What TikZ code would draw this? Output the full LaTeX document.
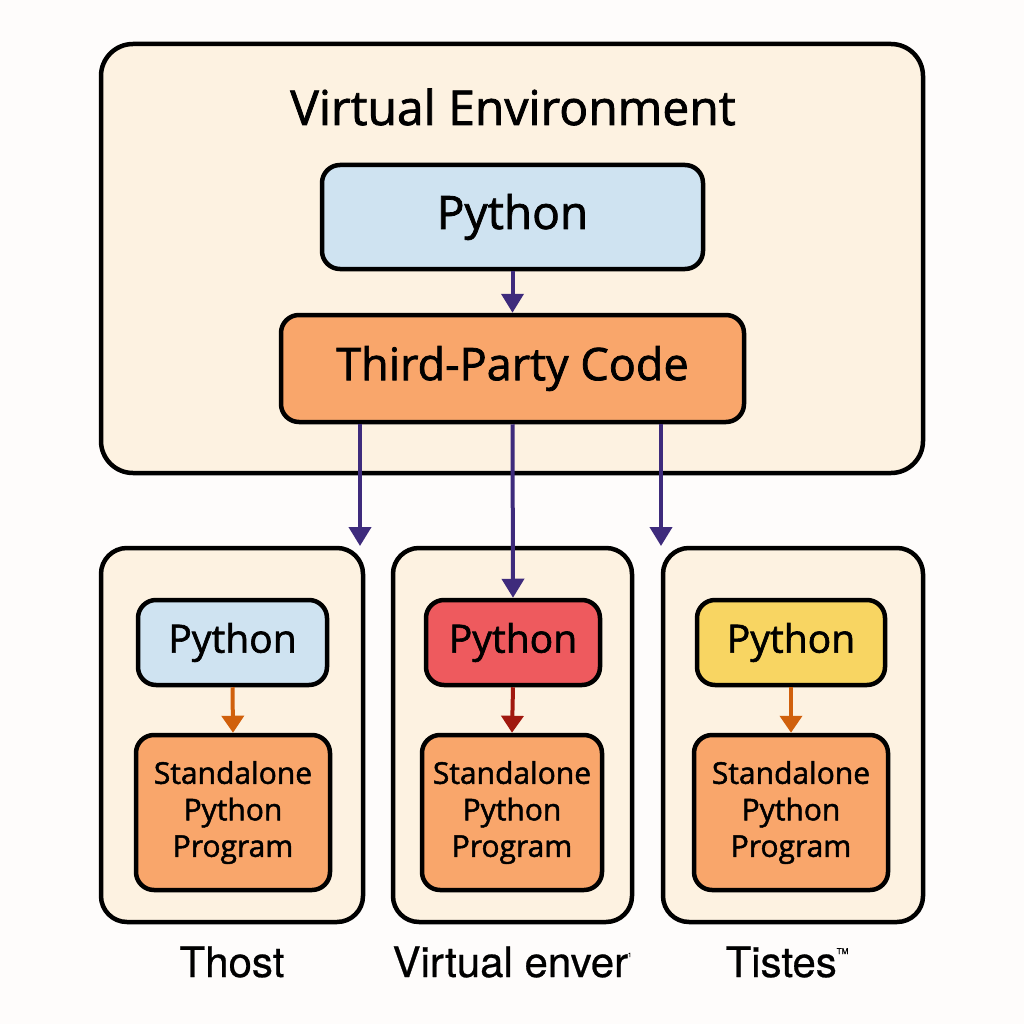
\documentclass[tikz,border=0pt]{standalone}
\usepackage{fontspec}
\setmainfont{Open Sans}[UprightFeatures={FakeBold=1.6}]
\newfontfamily\labfont{TeX Gyre Heros}[UprightFeatures={FakeBold=0.6}]
\usetikzlibrary{arrows.meta}
\definecolor{bgc}{HTML}{FEFCFB}
\definecolor{cream}{HTML}{FDF2E1}
\definecolor{lblue}{HTML}{CFE3F1}
\definecolor{orng}{HTML}{F9A66B}
\definecolor{rd}{HTML}{EE5A5E}
\definecolor{ylw}{HTML}{F8D562}
\definecolor{purp}{HTML}{3E2B7C}
\definecolor{oarrow}{HTML}{D0600C}
\definecolor{rarrow}{HTML}{A0180E}
\tikzset{
  frame/.style={draw=black, line width=4.5pt, fill=cream, rounded corners=32pt, inner sep=0pt},
  box/.style={draw=black, line width=4.5pt, rounded corners=18pt, inner sep=0pt, align=center},
  parr/.style={draw=purp, line width=4pt, -{Triangle[width=22pt,length=19pt]}},
  sarr/.style={line width=4pt, -{Triangle[width=22pt,length=17pt]}},
  lab/.style={font=\labfont\fontsize{42}{46}\selectfont},
}
\begin{document}
\begin{tikzpicture}[x=1pt,y=-1pt]
\useasboundingbox[fill=bgc] (0,0) rectangle (1024,1024);
% outer frame
\node[frame, minimum width=822pt, minimum height=429pt] (outer) at (512,258.5) {};
\node[font=\fontsize{48}{56}\selectfont] (title) at (513,107) {Virtual Environment};
\node[box, fill=lblue, minimum width=381pt, minimum height=104pt, font=\fontsize{46}{52}\selectfont] (py) at (512.5,217) {Python};
\node[box, fill=orng, minimum width=463pt, minimum height=107pt, font=\fontsize{45}{52}\selectfont] (tp) at (512.5,368.5) {Third-Party Code};
% bottom frames
\node[frame, rounded corners=26pt, minimum width=262pt, minimum height=374pt] (fa) at (232,735) {};
\node[frame, rounded corners=26pt, minimum width=239pt, minimum height=374pt] (fb) at (512.5,735) {};
\node[frame, rounded corners=26pt, minimum width=260pt, minimum height=374pt] (fc) at (793,735) {};
% small python boxes
\node[box, fill=lblue, minimum width=189pt, minimum height=85pt, font=\fontsize{39}{44}\selectfont] (pa) at (232.5,642.5) {Python};
\node[box, fill=rd, minimum width=174pt, minimum height=85pt, font=\fontsize{39}{44}\selectfont] (pb) at (513,642.5) {Python};
\node[box, fill=ylw, minimum width=188pt, minimum height=85pt, font=\fontsize{39}{44}\selectfont] (pc) at (791,642.5) {Python};
% standalone boxes
\node[box, fill=orng, minimum width=194pt, minimum height=155pt, font=\fontsize{30}{36.5}\selectfont] (sa) at (233,812.5) {Standalone\\Python\\Program};
\node[box, fill=orng, minimum width=180pt, minimum height=155pt, font=\fontsize{30}{36.5}\selectfont] (sb) at (512,812.5) {Standalone\\Python\\Program};
\node[box, fill=orng, minimum width=194pt, minimum height=155pt, font=\fontsize{30}{36.5}\selectfont] (sc) at (791,812.5) {Standalone\\Python\\Program};
% labels
\node[lab] (la) at (232,962) {Thost};
\node[lab] (lb) at (512,962) {Virtual enver\raisebox{20pt}{\fontsize{6}{6}\selectfont 1}};
\node[lab] (lc) at (787,962) {Tistes\raisebox{23pt}{\fontsize{8}{8}\selectfont TM}};
% arrows
\coordinate (ea) at (360,546);
\coordinate (ec) at (661,546);
\draw[parr] (py.south) -- (tp.north);
\draw[parr] (tp.south -| ea) -- (ea);
\draw[parr] (tp.south) -- (pb.north);
\draw[parr] (tp.south -| ec) -- (ec);
\draw[sarr, draw=oarrow] (pa.south) -- (sa.north);
\draw[sarr, draw=rarrow] (pb.south) -- (sb.north);
\draw[sarr, draw=oarrow] (pc.south) -- (sc.north);
\end{tikzpicture}
\end{document}
